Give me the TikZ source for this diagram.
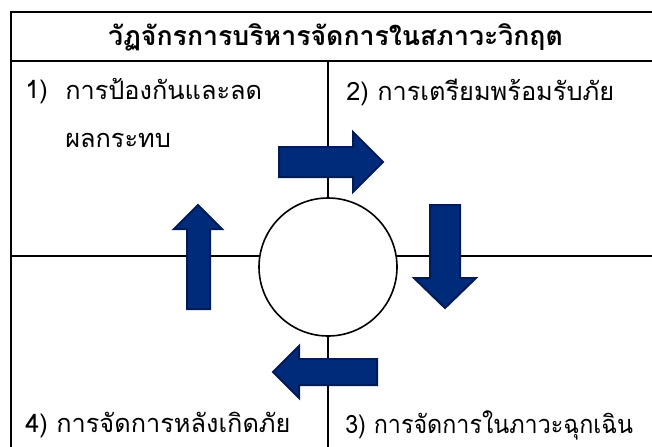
\documentclass[tikz,border=0pt]{standalone}
\usepackage{fontspec}
\newfontfamily\thaifont[Script=Thai]{Loma}
\newfontfamily\thainarrow[Script=Thai, FakeStretch=0.92]{Loma}
\definecolor{arrowblue}{RGB}{0,42,122}
\definecolor{arrowedge}{RGB}{0,28,84}
\tikzset{
  phase/.style={font=\thaifont\fontsize{19}{36}\selectfont, inner sep=0pt, anchor=west},
  heading/.style={font=\thaifont\bfseries\fontsize{20}{24}\selectfont, inner sep=0pt},
  rule/.style={line width=1.1pt},
  blockarrow/.style={fill=arrowblue, draw=arrowedge, line width=1.5pt, line join=miter},
}
\begin{document}
\begin{tikzpicture}[x=0.75pt, y=-0.75pt]
\clip (0,0) rectangle (652,446);
% frame and quadrants
\coordinate (nw) at (11,12);
\coordinate (se) at (660,460);
\draw[line width=1.5pt] (nw) rectangle (se);
\coordinate (tl) at (11,61);
\coordinate (tr) at (660,61);
\draw[rule] (tl) -- (tr);
\coordinate (vtop) at (328,61);
\coordinate (vbot) at (328,460);
\draw[rule] (vtop) -- (vbot);
\coordinate (hleft) at (11,256);
\coordinate (hright) at (660,256);
\draw[rule] (hleft) -- (hright);
\node[circle, draw, fill=white, line width=1.2pt, minimum size=103.5pt] (hub) at (328,267) {};
% title
\node[heading] (title) at (335.5,37) {วัฏจักรการบริหารจัดการในสภาวะวิกฤต};
% phases
\node[phase] (p1num) at (25,92) {1)};
\node[phase, anchor=north west, align=left] (p1) at (65,78) {การป้องกันและลด\\ผลกระทบ};
\node[phase] (p2) at (346,92) {2) การเตรียมพร้อมรับภัย};
\node[phase, font=\thainarrow\fontsize{19}{36}\selectfont] (p3) at (345,425) {3) การจัดการในภาวะฉุกเฉิน};
\node[phase] (p4) at (25,425) {4) การจัดการหลังเกิดภัย};
% arrows
\draw[blockarrow] (279,147) -- (353,147) -- (353,132) -- (383,162) -- (353,192) -- (353,177) -- (279,177) -- cycle;
\draw[blockarrow] (430,205) -- (460,205) -- (460,278) -- (476,278) -- (445,308) -- (414,278) -- (430,278) -- cycle;
\draw[blockarrow] (377,359) -- (299,359) -- (299,346) -- (273,372) -- (299,398) -- (299,385) -- (377,385) -- cycle;
\draw[blockarrow] (187,309) -- (187,229) -- (174,229) -- (198,205) -- (222,229) -- (210,229) -- (210,309) -- cycle;
\end{tikzpicture}
\end{document}
